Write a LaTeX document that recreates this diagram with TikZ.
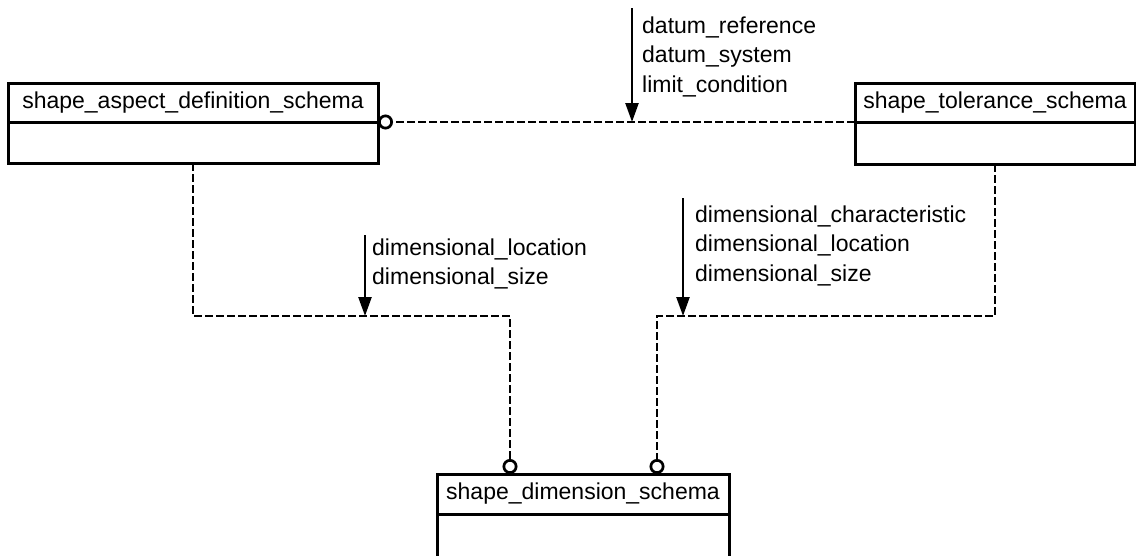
\documentclass[tikz,border=0pt]{standalone}
\usepackage{fontspec}
\setmainfont{Liberation Sans}
\usepackage{tikz}
\usetikzlibrary{arrows.meta,positioning}

\tikzset{
  schemahead/.style={draw, line width=3pt, inner sep=0pt, outer sep=0pt, minimum height=39pt, anchor=north west},
  schemabody/.style={draw, line width=3pt, inner sep=0pt, outer sep=0pt},
  link/.style={line width=2.7pt, dash pattern=on 8pt off 3pt},
  usedfrom/.style={line width=2.4pt, -{Triangle[length=19pt,width=13pt]}},
  itemlist/.style={anchor=north west, align=left, inner sep=0pt},
}

\begin{document}
\begin{tikzpicture}[x=1pt,y=-1pt,font=\fontsize{23}{29.5}\selectfont]
  \useasboundingbox (0,0) rectangle (1136,555);
  % schema boxes
  \node[schemahead, minimum width=370pt] (aspect) at (8,83) {shape\_aspect\_definition\_schema};
  \node[schemabody, minimum width=370pt, minimum height=41pt, below=0pt of aspect] (aspectbody) {};
  \node[schemahead, minimum width=280pt] (tolerance) at (855,83) {shape\_tolerance\_schema};
  \node[schemabody, minimum width=280pt, minimum height=42pt, below=0pt of tolerance] (tolerancebody) {};
  \node[schemahead, minimum width=292pt, minimum height=40pt] (dimension) at (437,474) {shape\_dimension\_schema};
  \node[schemabody, minimum width=292pt, minimum height=70pt, below=0pt of dimension] (dimensionbody) {};
  % bends of the lower links
  \coordinate (ljoin) at (510,316);
  \coordinate (rjoin) at (657,316);
  % dashed links, circle at the used schema
  \draw[link,-{Circle[open,length=15pt,width=15pt]}] (tolerance.south west) -- (aspect.south east);
  \draw[link,-{Circle[open,length=15pt,width=15pt]}] (aspectbody.south) |- (ljoin) -- (ljoin |- dimension.north);
  \draw[link,-{Circle[open,length=15pt,width=15pt]}] (tolerancebody.south) |- (rjoin) -- (rjoin |- dimension.north);
  % referenced items
  \coordinate (tarr) at (632,8);
  \coordinate (larr) at (365,235);
  \coordinate (rarr) at (683,198);
  \draw[usedfrom] (tarr) -- (tarr |- aspect.south);
  \draw[usedfrom] (larr) -- (larr |- ljoin);
  \draw[usedfrom] (rarr) -- (rarr |- rjoin);
  \node[itemlist] (datumlist) at (642,16.5) {datum\_reference\\datum\_system\\limit\_condition};
  \node[itemlist] (locationlist) at (372,238.5) {dimensional\_location\\dimensional\_size};
  \node[itemlist] (characterlist) at (695,205.5) {dimensional\_characteristic\\dimensional\_location\\dimensional\_size};
\end{tikzpicture}
\end{document}
